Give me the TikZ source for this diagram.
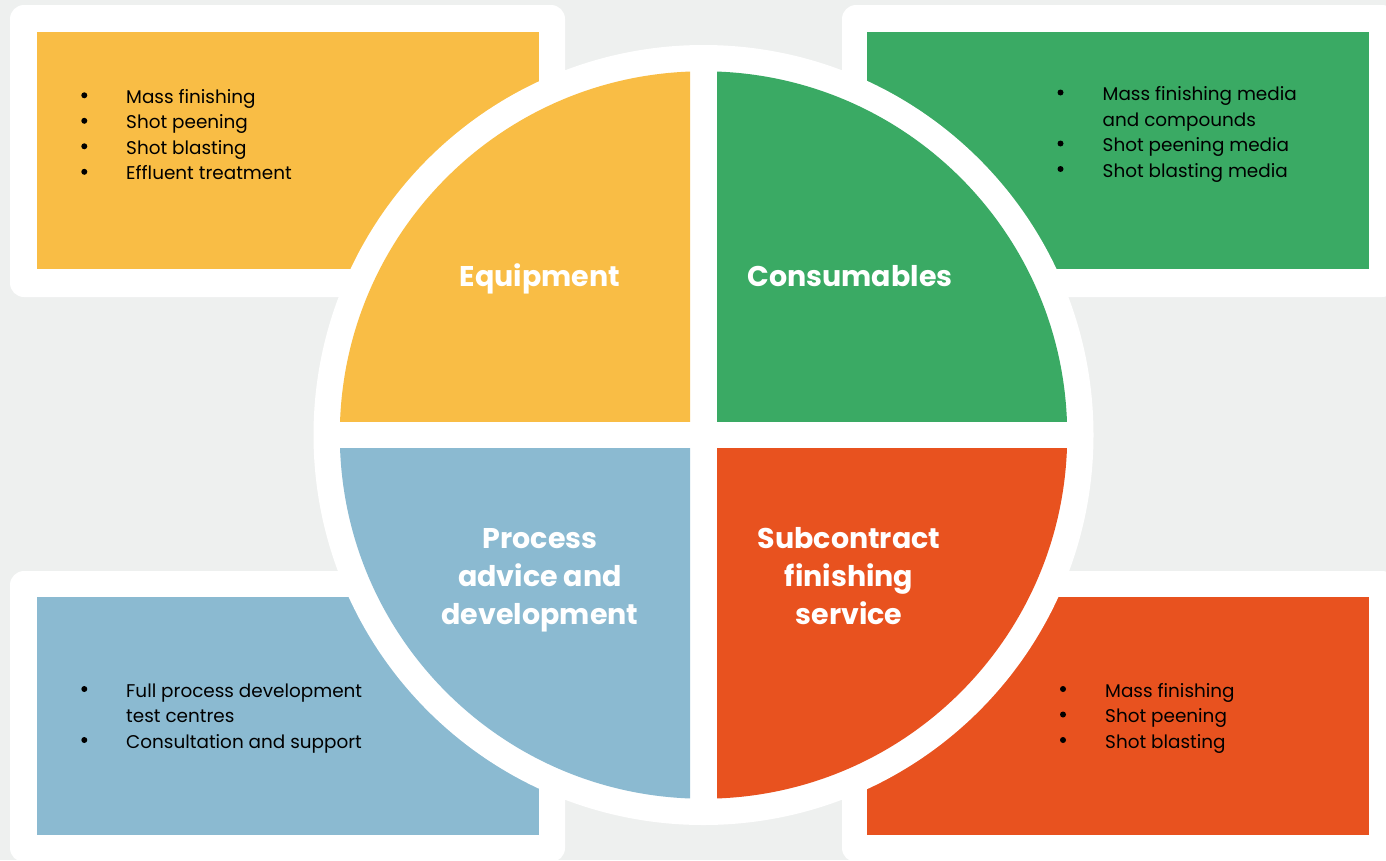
\documentclass[tikz,border=0pt]{standalone}
\usepackage{fontspec}
\setmainfont{Poppins}
\definecolor{bgc}{HTML}{EEF0EF}
\definecolor{cyel}{HTML}{F9BD45}
\definecolor{cgrn}{HTML}{3AAA64}
\definecolor{cblu}{HTML}{8BBAD1}
\definecolor{corg}{HTML}{E8521F}
\tikzset{
  body/.style={anchor=base west, inner sep=0pt, text=black, font=\fontsize{18.4}{25.5}\selectfont},
  bul/.style={circle, fill=black, inner sep=0pt, minimum size=6pt},
  head/.style={anchor=base, inner sep=0pt, text=white, font=\fontsize{28.5}{38}\selectfont\bfseries},
  frame/.style={fill=white, rounded corners=14pt}
}
\begin{document}
\begin{tikzpicture}[x=1pt,y=-1pt]
\useasboundingbox (0,0) rectangle (1386,860);
\fill[bgc] (0,0) rectangle (1386,860);
% corner frames
\fill[frame] (10,5) rectangle (565,297);
\fill[frame] (842,5) rectangle (1396,297);
\fill[frame] (10,571) rectangle (565,862);
\fill[frame] (842,571) rectangle (1396,862);
\fill[cyel] (37,32) rectangle (539,269);
\fill[cgrn] (867,32) rectangle (1369,269);
\fill[cblu] (37,597) rectangle (539,835);
\fill[corg] (867,597) rectangle (1369,835);
% central disc
\coordinate (ctr) at (703.5,435);
\fill[white] (ctr) circle (390pt);
\begin{scope}
  \clip (300,30) rectangle (690,421.7);
  \fill[cyel] (ctr) circle (363.7pt);
\end{scope}
\begin{scope}
  \clip (717,30) rectangle (1100,421.7);
  \fill[cgrn] (ctr) circle (363.7pt);
\end{scope}
\begin{scope}
  \clip (300,448.3) rectangle (690,840);
  \fill[cblu] (ctr) circle (363.7pt);
\end{scope}
\begin{scope}
  \clip (717,448.3) rectangle (1100,840);
  \fill[corg] (ctr) circle (363.7pt);
\end{scope}
% headings
\node[head] (eq) at (540,286.7) {Equipment};
\node[head] (co) at (850,286.7) {Consumables};
\node[head] (pr1) at (540,548.3) {Process};
\node[head] (pr2) at (540,586.7) {advice and};
\node[head] (pr3) at (540,624) {development};
\node[head] (sc1) at (849,548.3) {Subcontract};
\node[head] (sc2) at (849,586.7) {finishing};
\node[head] (sc3) at (849,624) {service};
% top-left list
\node[bul] (tlb1) at (84.3,95.3) {};
\node[bul] (tlb2) at (84.3,120.8) {};
\node[bul] (tlb3) at (84.3,146.3) {};
\node[bul] (tlb4) at (84.3,171.8) {};
\node[body] (tl1) at (126,103.3) {Mass finishing};
\node[body] (tl2) at (126,128.8) {Shot peening};
\node[body] (tl3) at (126,154.3) {Shot blasting};
\node[body] (tl4) at (126,179.8) {Effluent treatment};
% top-right list
\node[bul] (trb1) at (1060.5,92.5) {};
\node[bul] (trb2) at (1060.5,143.5) {};
\node[bul] (trb3) at (1060.5,169) {};
\node[body] (tr1) at (1102.5,100.5) {Mass finishing media};
\node[body] (tr1b) at (1102.5,126) {and compounds};
\node[body] (tr2) at (1102.5,151.5) {Shot peening media};
\node[body] (tr3) at (1102.5,177) {Shot blasting media};
% bottom-left list
\node[bul] (blb1) at (84.3,689) {};
\node[bul] (blb2) at (84.3,740) {};
\node[body] (bl1) at (126,697) {Full process development};
\node[body] (bl1b) at (126,722.5) {test centres};
\node[body] (bl2) at (126,748) {Consultation and support};
% bottom-right list
\node[bul] (brb1) at (1063,689) {};
\node[bul] (brb2) at (1063,714.5) {};
\node[bul] (brb3) at (1063,740) {};
\node[body] (br1) at (1105,697) {Mass finishing};
\node[body] (br2) at (1105,722.5) {Shot peening};
\node[body] (br3) at (1105,748) {Shot blasting};
\end{tikzpicture}
\end{document}
